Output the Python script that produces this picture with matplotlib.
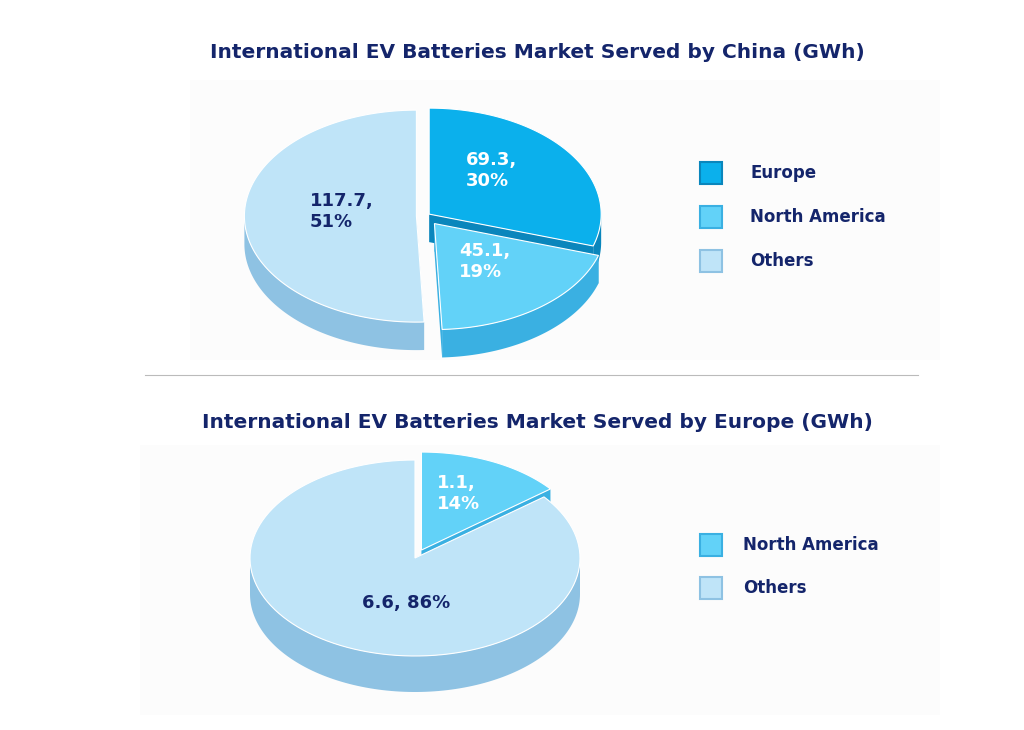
import numpy as np
import matplotlib.pyplot as plt
from matplotlib.patches import Polygon, Rectangle

# top chart: market served by China (GWh)
china_cats = ['Europe', 'North America', 'Others']
china_vals = [69.3, 45.1, 117.7]
china_labels = ['69.3,\n30%', '45.1,\n19%', '117.7,\n51%']

# bottom chart: market served by Europe (GWh)
europe_cats = ['North America', 'Others']
europe_vals = [1.1, 6.6]
europe_labels = ['1.1,\n14%', '6.6, 86%']

top_col = {'Europe': '#0BB0EC', 'North America': '#62D2F8', 'Others': '#BFE4F8'}
side_col = {'Europe': '#0A86BC', 'North America': '#3AB0E2', 'Others': '#8EC2E3'}
txt_col = {'Europe': 'white', 'North America': 'white', 'Others': '#14256b'}
navy = '#14256b'


def arc(cx, cy, rx, ry, t1, t2, n=120):
    t = np.radians(np.linspace(t1, t2, n))
    return np.column_stack([cx + rx * np.cos(t), cy + ry * np.sin(t)])


def draw_pie(ax, cx, cy, rx, ry, depth, cats, vals, labels, explode, lab_pos):
    fr = np.array(vals) / sum(vals)
    ends = np.cumsum(fr)
    starts = ends - fr
    pieces = []
    for i, c in enumerate(cats):
        t2 = 90 - starts[i] * 360
        t1 = 90 - ends[i] * 360
        mid = np.radians((t1 + t2) / 2)
        ox = cx + explode[i] * rx * np.cos(mid)
        oy = cy + explode[i] * ry * np.sin(mid)
        pieces.append((c, t1, t2, mid, ox, oy))
    # cut faces
    for c, t1, t2, mid, ox, oy in pieces:
        for t in (t1, t2):
            p = arc(ox, oy, rx, ry, t, t, 1)[0]
            quad = [(ox, oy), tuple(p), (p[0], p[1] - depth), (ox, oy - depth)]
            ax.add_patch(Polygon(quad, closed=True, fc=side_col[c], ec='none', zorder=1))
    # outer sides (front half)
    for c, t1, t2, mid, ox, oy in pieces:
        a, b = max(t1, -180), min(t2, 0)
        if a < b:
            top = arc(ox, oy, rx, ry, a, b)
            bot = top.copy()
            bot[:, 1] -= depth
            ax.add_patch(Polygon(np.vstack([top, bot[::-1]]), closed=True,
                                 fc=side_col[c], ec='none', zorder=2))
    # top faces
    for i, (c, t1, t2, mid, ox, oy) in enumerate(pieces):
        pts = np.vstack([[ox, oy], arc(ox, oy, rx, ry, t1, t2)])
        ax.add_patch(Polygon(pts, closed=True, fc=top_col[c], ec='white', lw=0.8, zorder=3))
        ax.text(cx + lab_pos[i][0] * rx, cy + lab_pos[i][1] * ry,
                labels[i], color=txt_col[c], fontsize=13, fontweight='bold',
                ha='left', va='center', linespacing=1.2, zorder=4)


def draw_legend(ax, x, y0, cats, step, gap):
    for i, c in enumerate(cats):
        y = y0 - i * step
        ax.add_patch(Polygon([(x, y - 10), (x + 22, y - 10), (x + 22, y + 12), (x, y + 12)],
                             closed=True, fc=top_col[c], ec=side_col[c], lw=1.5))
        ax.text(x + gap, y + 1, c, color=navy, fontsize=12, fontweight='bold', va='center')


fig = plt.figure(figsize=(10.24, 7.3), dpi=100)
ax = fig.add_axes([0, 0, 1, 1])
ax.set_xlim(0, 1024)
ax.set_ylim(0, 730)
ax.axis('off')

# very faint background panels behind the pies
ax.add_patch(Rectangle((190, 370), 750, 280, fc='#fcfcfc', ec='none', zorder=0))
ax.add_patch(Rectangle((140, 15), 800, 270, fc='#fcfcfc', ec='none', zorder=0))

ax.text(537, 677, 'International EV Batteries Market Served by China (GWh)',
        ha='center', va='center', fontsize=14.5, fontweight='bold', color=navy)
draw_pie(ax, 425, 514, 172, 106, 28, china_cats, china_vals, china_labels,
         [0.03, 0.09, 0.05], [(0.24, 0.43), (0.2, -0.43), (-0.67, 0.04)])
draw_legend(ax, 700, 556, china_cats, 44, 50)

ax.plot([145, 918], [355, 355], color='#bbbbbb', lw=0.8)

ax.text(537, 307, 'International EV Batteries Market Served by Europe (GWh)',
        ha='center', va='center', fontsize=14.5, fontweight='bold', color=navy)
draw_pie(ax, 415, 172, 165, 98, 36, europe_cats, europe_vals, europe_labels,
         [0.09, 0.0], [(0.13, 0.66), (-0.32, -0.46)])
draw_legend(ax, 700, 184, europe_cats, 43, 43)

fig.savefig('out.png', dpi=100, facecolor='white')
